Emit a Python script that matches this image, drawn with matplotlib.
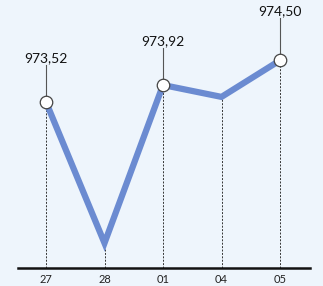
import matplotlib
matplotlib.use("Agg")
import matplotlib.pyplot as plt
import numpy as np

# data
days = ["27", "28", "01", "04", "05"]
values = [973.52, 970.20, 973.92, 973.64, 974.50]
labelled = [0, 2, 4]          # points carrying a value label
label_lift = [37, 37, 42]     # leader line length in pixels

bg = "#eef5fc"
line_col = "#6b8bd1"

fig = plt.figure(figsize=(3.23, 2.86), dpi=100)
fig.patch.set_facecolor(bg)
ax = fig.add_axes([0, 0, 1, 1])
ax.set_facecolor(bg)
for s in ax.spines.values():
    s.set_visible(False)
ax.set_xticks([])
ax.set_yticks([])

px = 58.5                 # pixels per category step
py = 0.02353              # data units per pixel
ax.set_xlim(-46 / px, (323 - 46) / px)
ax.set_ylim(973.52 - 184 * py, 973.52 + 102 * py)

x = np.arange(len(days))
base = 973.52 - 166 * py

# dashed drop lines
for xi, v in zip(x, values):
    ax.plot([xi, xi], [base, v], ls=(0, (2, 1.5)), color="#333333", lw=0.7, zorder=1)

ax.plot(x, values, color=line_col, lw=4.5, solid_joinstyle="miter", zorder=2)

# baseline
ax.plot([-28 / px, 264 / px], [base, base], color="#111111", lw=1.8, zorder=3)

for xi, d in zip(x, days):
    ax.text(xi, base - 6 * py, d, ha="center", va="top", fontsize=8,
            family=["Liberation Sans Narrow", "Lato"], color="#222222")

for i, lift in zip(labelled, label_lift):
    v = values[i]
    top = v + lift * py
    ax.plot([i, i], [v, top], color="#555555", lw=0.8, zorder=1)
    ax.plot(i, v, "o", ms=9, mfc="white", mec="#444444", mew=0.9, zorder=4)
    ax.text(i, top + 1 * py, f"{v:.2f}".replace(".", ","), ha="center",
            va="bottom", fontsize=10, family="Lato", color="#111111")

fig.savefig("out.png", dpi=100, facecolor=bg)
